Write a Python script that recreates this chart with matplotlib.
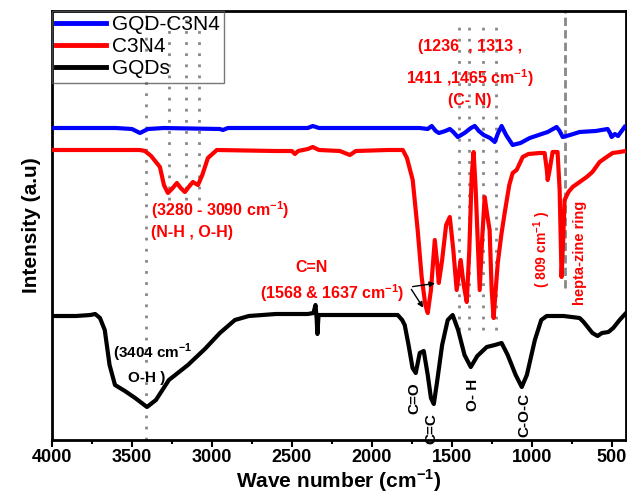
import matplotlib
matplotlib.use("Agg")
import matplotlib.pyplot as plt
import numpy as np

plt.rcParams['font.family'] = ['Liberation Sans', 'DejaVu Sans']
plt.rcParams['mathtext.fontset'] = 'custom'
plt.rcParams['mathtext.rm'] = 'Liberation Sans'
plt.rcParams['mathtext.bf'] = 'Liberation Sans:bold'

# ---------------- data (wavenumber cm-1, intensity a.u.) ----------------
gqd_w = [4000, 3850, 3760, 3730, 3700, 3670, 3640, 3606, 3544, 3480, 3406, 3350, 3269, 3150,
         3044, 2950, 2856, 2769, 2600, 2400, 2365, 2352, 2345, 2340, 2333, 2300, 2000, 1838,
         1810, 1794, 1770, 1745, 1725, 1700, 1675, 1650, 1630, 1612, 1590, 1560, 1525, 1494,
         1460, 1420, 1381, 1340, 1281, 1230, 1188, 1150, 1100, 1062, 1030, 980, 940, 906,
         800, 700, 675, 620, 588, 560, 520, 490, 450, 410]
gqd_py = [316, 316, 315, 314, 318, 330, 365, 385, 391, 398, 407, 400, 380, 365,
          349, 333, 320, 316, 314, 314, 313, 305, 318, 334, 315, 315, 315, 315,
          320, 325, 345, 368, 373, 353, 351, 375, 398, 404, 380, 345, 320, 315,
          330, 355, 367, 356, 347, 345, 343, 355, 375, 387, 375, 340, 320, 316,
          316, 318, 322, 333, 336, 333, 332, 328, 320, 313]

c3n4_w = [4000, 3600, 3450, 3419, 3380, 3325, 3300, 3275, 3245, 3219, 3195, 3169, 3140, 3119,
          3087, 3060, 3025, 2969, 2600, 2500, 2481, 2460, 2400, 2369, 2330, 2200, 2137, 2100,
          1900, 1806, 1780, 1744, 1713, 1688, 1665, 1650, 1630, 1606, 1590, 1581, 1560, 1535,
          1512, 1490, 1469, 1444, 1425, 1406, 1390, 1375, 1363, 1350, 1325, 1310, 1294, 1278,
          1263, 1250, 1238, 1225, 1212, 1190, 1169, 1140, 1119, 1094, 1056, 1020, 950, 919,
          905, 900, 890, 869, 838, 825, 813, 803, 794, 770, 744, 700, 656, 620, 575, 540,
          494, 450, 413]
c3n4_py = [150, 150, 150, 151, 156, 167, 185, 193, 188, 183, 188, 192, 186, 182,
           185, 175, 158, 150, 151, 151, 154, 151, 149, 147, 150, 151, 155, 151,
           150, 150, 158, 180, 230, 277, 305, 313, 290, 240, 265, 283, 260, 225,
           217, 250, 290, 260, 285, 302, 250, 175, 152, 190, 290, 240, 197, 215,
           230, 290, 318, 290, 263, 235, 213, 185, 173, 170, 157, 154, 153, 153,
           170, 180, 172, 152, 152, 190, 277, 240, 200, 192, 187, 182, 177, 172, 162, 158,
           153, 152, 151]

comp_w = [4000, 3600, 3500, 3450, 3400, 3300, 2950, 2931, 2900, 2400, 2369, 2330, 1700, 1650,
          1625, 1600, 1580, 1540, 1512, 1490, 1462, 1420, 1380, 1356, 1330, 1300, 1260, 1231,
          1210, 1188, 1160, 1119, 1070, 1012, 900, 844, 825, 806, 760, 700, 600, 525, 510,
          500, 480, 460, 419]
comp_py = [128, 128, 129, 133, 129, 128, 129, 130, 128, 128, 126, 128, 128, 129,
           126, 131, 133, 131, 129, 132, 137, 133, 128, 126, 131, 135, 138, 142,
           133, 126, 135, 145, 143, 138, 132, 127, 131, 137, 135, 132, 131, 129, 133,
           137, 134, 136, 127]

series_names = ['GQD-C3N4', 'C3N4', 'GQDs']
series_colors = ['#0000ff', '#ff0000', '#000000']

# convert read-off heights to intensity
gqd_i = 440 - np.array(gqd_py)
c3n4_i = 440 - np.array(c3n4_py)
comp_i = 440 - np.array(comp_py)

fig = plt.figure(figsize=(6.27, 4.93), dpi=100)
ax = fig.add_axes([52/627, 53/493, 574/627, 429/493])

ax.plot(comp_w, comp_i, color=series_colors[0], lw=3, label=series_names[0], zorder=3)
ax.plot(c3n4_w, c3n4_i, color=series_colors[1], lw=3, label=series_names[1], zorder=3)
ax.plot(gqd_w, gqd_i, color=series_colors[2], lw=3, label=series_names[2], zorder=3)

dot = dict(color='#888888', lw=2, ls=(0, (1, 3)), zorder=2)
ax.plot([3409, 3409], [0, 425], **dot)
for w in [3270, 3163, 3082]:
    ax.plot([w, w], [240, 425], **dot)
for w in [1456, 1394, 1306, 1225]:
    ax.plot([w, w], [110, 415], **dot)
ax.plot([794, 794], [152, 429], color='#888888', lw=2, ls=(0, (3, 1.5)), zorder=2)

ax.set_xlim(4000, 410)
ax.set_ylim(0, 429)
ax.set_xticks([4000, 3500, 3000, 2500, 2000, 1500, 1000, 500])
ax.set_xticks(np.arange(3750, 400, -500), minor=True)
ax.set_yticks([])
ax.tick_params(axis='x', which='major', direction='out', length=5, width=1.5, labelsize=13, pad=1.5)
ax.tick_params(axis='x', which='minor', direction='out', length=3, width=1.5)
for lab in ax.get_xticklabels():
    lab.set_fontweight('bold')
for s in ax.spines.values():
    s.set_linewidth(2)

ax.set_xlabel(r'Wave number (cm$^{\mathbf{-1}}$)', fontsize=15, fontweight='bold', labelpad=1)
ax.set_ylabel('Intensity (a.u)', fontsize=15, fontweight='bold', labelpad=8)

leg = ax.legend(loc='upper left', fontsize=15, frameon=True, fancybox=False,
                borderaxespad=0, handlelength=2.4, handletextpad=0.3, labelspacing=0.15,
                borderpad=0.2)
leg.get_frame().set_edgecolor('#555555')
leg.get_frame().set_linewidth(1)
leg.get_frame().set_facecolor('none')
for h in leg.get_lines():
    h.set_linewidth(3.5)

red = dict(color='#ff0000', fontweight='bold', fontsize=11.5, ha='center', va='center')
blk = dict(color='#000000', fontweight='bold', fontsize=11, ha='center', va='center')

ax.text(1388, 393, '(1236  , 1313 ,', **red)
ax.text(1388, 362, r'1411 ,1465 cm$^{\mathbf{-1}}$)', **red)
ax.text(1388, 340, '(C- N)', **red)
ax.text(2950, 230, r'(3280 - 3090 cm$^{\mathbf{-1}}$)', **red)
ax.text(3125, 207, '(N-H , O-H)', **red)
ax.text(2375, 173, 'C=N', **red)
ax.text(2250, 147, r'(1568 & 1637 cm$^{\mathbf{-1}}$)', **red)
ax.annotate('', xy=(1587, 157), xytext=(1762, 153),
            arrowprops=dict(arrowstyle='-|>', color='black', lw=1, mutation_scale=8))
ax.annotate('', xy=(1669, 130), xytext=(1762, 153),
            arrowprops=dict(arrowstyle='-|>', color='black', lw=1, mutation_scale=8))

ax.text(3619, 87, r'(3404 cm$^{\mathbf{-1}}$', color='black', fontweight='bold', fontsize=11,
        ha='left', va='center')
ax.text(3406, 62, 'O-H )', **blk)
ax.text(1731, 42, 'C=O', rotation=90, **blk)
ax.text(1625, 11, 'C=C', rotation=90, **blk)
ax.text(1369, 45, 'O- H', rotation=90, **blk)
ax.text(1044, 25, 'C-O-C', rotation=90, **blk)
ax.text(931, 190, r'( 809 cm$^{\mathbf{-1}}$ )', rotation=90, color='#ff0000', fontweight='bold',
        fontsize=10, ha='center', va='center')
ax.text(700, 187, 'hepta-zine ring', rotation=90, color='#ff0000', fontweight='bold',
        fontsize=10.5, ha='center', va='center')

fig.savefig('out.png', dpi=100)
